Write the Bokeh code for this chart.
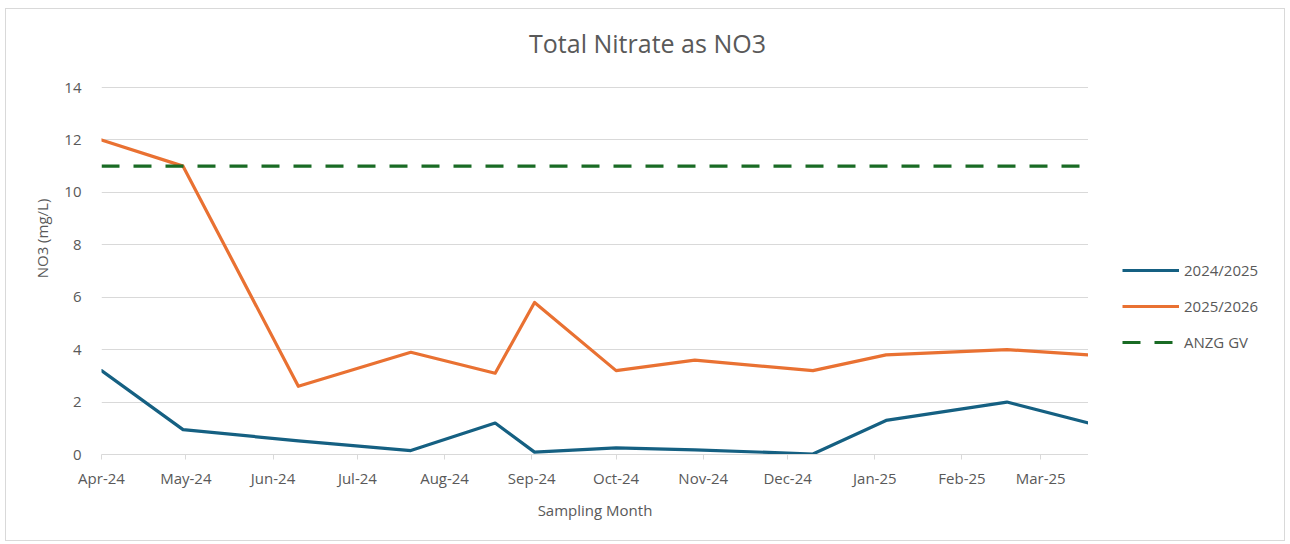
from datetime import datetime
from bokeh.plotting import figure
from bokeh.layouts import row
from bokeh.models import (Range1d, FixedTicker, DatetimeTickFormatter, Legend, LegendItem, Label)
from bokeh.embed import file_html
from bokeh.resources import INLINE

# ---- data ----
sample_dates = ["2024-04-01", "2024-04-30", "2024-06-10", "2024-07-20", "2024-08-19", "2024-09-02",
                "2024-10-01", "2024-10-29", "2024-12-10", "2025-01-05", "2025-02-17", "2025-03-18"]
no3_2024_2025 = [3.2, 0.95, 0.52, 0.15, 1.2, 0.09, 0.25, 0.18, 0.02, 1.3, 2.0, 1.2]
no3_2025_2026 = [12.0, 11.0, 2.6, 3.9, 3.1, 5.8, 3.2, 3.6, 3.2, 3.8, 4.0, 3.8]
anzg_gv = 11.0
month_ticks = ["2024-04-01", "2024-05-01", "2024-06-01", "2024-07-01", "2024-08-01", "2024-09-01",
               "2024-10-01", "2024-11-01", "2024-12-01", "2025-01-01", "2025-02-01", "2025-03-01"]
y_ticks = [0, 2, 4, 6, 8, 10, 12, 14]

series_names = ["2024/2025", "2025/2026", "ANZG GV"]
series_colors = ["#156082", "#E97132", "#196B24"]
title_text = "Total Nitrate as NO3"
x_title = "Sampling Month"
y_title = "NO3 (mg/L)"

FONT = "Open Sans"
GRAY = "#595959"
LW = 3.2
DASH = "18 14"

# ---- layout (pixels) ----
W_MAIN, W_LEG, H = 1082, 196, 531
LEFT, TOP, BOTTOM = 95, 13, 86   # borders of the main figure
PLOT_H = 367                     # height of the 0..14 axis extent
FRAME_H = H - TOP - BOTTOM

dates = [datetime.strptime(d, "%Y-%m-%d") for d in sample_dates]
tick_ms = [datetime.strptime(d, "%Y-%m-%d").timestamp() * 1000 for d in month_ticks]
x0, x1 = dates[0], dates[-1]
y_top = max(y_ticks)
y_end = y_top * FRAME_H / PLOT_H
gv_x = [x0, x1]
gv_y = [anzg_gv, anzg_gv]

p = figure(width=W_MAIN, height=H, x_axis_type="datetime", output_backend="svg",
           toolbar_location=None, min_border_left=LEFT, min_border_right=0,
           min_border_top=TOP, min_border_bottom=BOTTOM)
p.x_range = Range1d(x0, x1)
p.y_range = Range1d(0, y_end)
p.outline_line_color = None
p.background_fill_color = "white"
p.border_fill_color = "white"

p.line(dates, no3_2024_2025, line_color=series_colors[0], line_width=LW, line_join="round", line_cap="round")
p.line(dates, no3_2025_2026, line_color=series_colors[1], line_width=LW, line_join="round", line_cap="round")
p.line(gv_x, gv_y, line_color=series_colors[2], line_width=LW, line_dash=DASH)

# axes
xa = p.xaxis[0]
xa.ticker = FixedTicker(ticks=tick_ms)
fmt = "%b-%y"
xa.formatter = DatetimeTickFormatter(microseconds=fmt, milliseconds=fmt, seconds=fmt, minsec=fmt,
                                     minutes=fmt, hourmin=fmt, hours=fmt, days=fmt, months=fmt, years=fmt)
xa.axis_line_color = "#d9d9d9"
xa.major_tick_line_color = "#d9d9d9"
xa.major_tick_in = 0
xa.major_tick_out = 5
xa.minor_tick_line_color = None
xa.major_label_text_font = FONT
xa.major_label_text_font_size = "15px"
xa.major_label_text_color = GRAY
xa.major_label_standoff = 8
xa.axis_label = x_title
xa.axis_label_text_font = FONT
xa.axis_label_text_font_size = "15px"
xa.axis_label_text_font_style = "normal"
xa.axis_label_text_color = GRAY
xa.axis_label_standoff = 9

ya = p.yaxis[0]
ya.ticker = FixedTicker(ticks=y_ticks)
ya.bounds = (0, y_top)
ya.axis_line_color = None
ya.major_tick_line_color = None
ya.minor_tick_line_color = None
ya.major_label_text_font = FONT
ya.major_label_text_font_size = "15px"
ya.major_label_text_color = GRAY
ya.major_label_standoff = 14
ya.axis_label = y_title
ya.axis_label_text_font = FONT
ya.axis_label_text_font_size = "15px"
ya.axis_label_text_font_style = "normal"
ya.axis_label_text_color = GRAY
ya.axis_label_standoff = 9

p.xgrid.grid_line_color = None
p.ygrid.grid_line_color = "#d9d9d9"
p.ygrid.grid_line_width = 1

# title (screen units relative to the frame)
p.add_layout(Label(x=546, y=412, x_units="screen", y_units="screen", text=title_text,
                   text_font=FONT, text_font_size="25px", text_color=GRAY,
                   text_align="center", text_baseline="middle"))

# ---- legend panel (its frame is aligned with the main frame by the row) ----
lg = figure(width=W_LEG, height=H, x_axis_type=None, y_axis_type=None, output_backend="svg",
            toolbar_location=None, min_border=0, x_range=Range1d(0, 1), y_range=Range1d(0, 1))
lg.outline_line_color = None
lg.background_fill_color = "white"
lg.border_fill_color = "white"
lg.xgrid.visible = False
lg.ygrid.visible = False
# legend keys: same series, outside this panel's visible range
k1 = lg.line(tick_ms, no3_2024_2025, line_color=series_colors[0], line_width=LW)
k2 = lg.line(tick_ms, no3_2025_2026, line_color=series_colors[1], line_width=LW)
k3 = lg.line([tick_ms[0], tick_ms[-1]], gv_y, line_color=series_colors[2], line_width=LW, line_dash=DASH)
legend = Legend(items=[LegendItem(label=series_names[0], renderers=[k1]),
                       LegendItem(label=series_names[1], renderers=[k2]),
                       LegendItem(label=series_names[2], renderers=[k3])],
                location=(34, 102), orientation="vertical", padding=0, margin=0,
                spacing=16, glyph_width=57, glyph_height=20, label_height=20,
                label_standoff=5, border_line_color=None, background_fill_alpha=0,
                label_text_font=FONT, label_text_font_size="15px", label_text_color=GRAY)
lg.add_layout(legend)

layout = row(p, lg, spacing=0)
layout.styles = {"border": "1px solid #d9d9d9", "position": "relative", "left": "5px", "top": "8px"}

open("out.html", "w").write(file_html(layout, INLINE))
